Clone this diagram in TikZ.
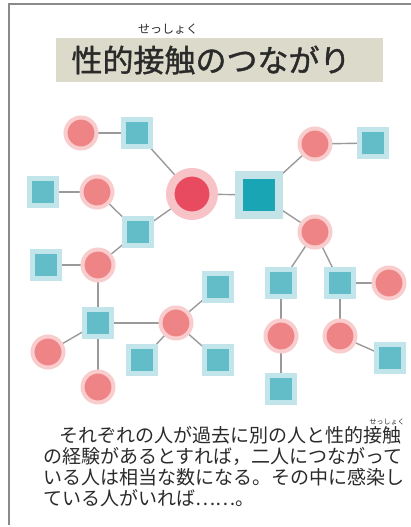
\documentclass[tikz,border=0pt]{standalone}
\usepackage{fontspec}
\setmainfont{Noto Sans CJK JP}
\newfontfamily\titlefont[FakeBold=1.2]{Noto Sans CJK JP}
\usetikzlibrary{backgrounds}
\definecolor{cfill}{HTML}{EE8486}
\definecolor{chalo}{HTML}{F9CDCD}
\definecolor{sfill}{HTML}{62BDC9}
\definecolor{shalo}{HTML}{C2E5EC}
\definecolor{bcfill}{HTML}{E84A5F}
\definecolor{bchalo}{HTML}{F7C3C6}
\definecolor{bsfill}{HTML}{1AA5B5}
\definecolor{bshalo}{HTML}{C4E3E9}
\definecolor{edgec}{HTML}{9A9A9A}
\definecolor{titlebg}{HTML}{DCDBCB}
\definecolor{txt}{HTML}{2A2A2A}
\definecolor{framec}{HTML}{8A8A8A}
\tikzset{
  x=1pt, y=-1pt,
  cnode/.style={circle, fill=cfill, draw=chalo, line width=4pt, minimum size=31pt, inner sep=0pt},
  snode/.style={rectangle, fill=sfill, draw=shalo, line width=5pt, minimum size=27pt, inner sep=0pt},
  bignodec/.style={circle, fill=bcfill, draw=bchalo, line width=8.5pt, minimum size=43.5pt, inner sep=0pt},
  bignodes/.style={rectangle, fill=bsfill, draw=bshalo, line width=8pt, minimum size=40pt, inner sep=0pt},
  link/.style={draw=edgec, line width=1.4pt},
  para/.style={anchor=west, inner sep=0pt, text=txt, text height=13pt, text depth=3pt, font=\fontsize{19}{21}\selectfont},
  ruby/.style={inner sep=0pt, text=txt},
}
\begin{document}
\begin{tikzpicture}
\useasboundingbox (0,0) rectangle (411,527);
% frame
\coordinate (fr1) at (9,525);
\coordinate (fr2) at (9,4);
\coordinate (fr3) at (411,4);
\draw[framec, line width=1.5pt] (fr1) -- (fr2) -- (fr3);
% title
\node[fill=titlebg, minimum width=327pt, minimum height=44pt, inner sep=0pt] (titlebox) at (219.5,60) {};
\node[inner sep=0pt, text=txt, font=\titlefont\fontsize{31}{31}\selectfont] (title) at (211,60) {性的接触のつながり};
\node[ruby, font=\fontsize{12}{12}\selectfont] (titleruby) at (168,29) {せっしょく};
% nodes
\node[cnode] (A) at (81,133) {};
\node[snode] (B) at (137,133) {};
\node[bignodec] (C) at (192,194) {};
\node[bignodes] (D) at (259,195) {};
\node[cnode] (E) at (315,144) {};
\node[snode] (F) at (373,143) {};
\node[snode] (G) at (43,192) {};
\node[cnode] (H) at (97,192) {};
\node[snode] (I) at (138,232) {};
\node[cnode] (J) at (315,232) {};
\node[snode] (K) at (46,265) {};
\node[cnode] (L) at (98,265) {};
\node[snode] (M) at (98,323) {};
\node[cnode] (N) at (176,323) {};
\node[snode] (O) at (218,287) {};
\node[cnode] (P) at (48,352) {};
\node[snode] (Q) at (142,360) {};
\node[snode] (R) at (218,360) {};
\node[cnode] (S) at (98,387) {};
\node[snode] (T) at (281,283) {};
\node[snode] (U) at (340,283) {};
\node[cnode] (V) at (389,283) {};
\node[cnode] (W) at (281,336) {};
\node[cnode] (X) at (340,336) {};
\node[snode] (Y) at (390,358) {};
\node[snode] (Z) at (281,389) {};
\begin{scope}[on background layer]
\path[link] (A.center) -- (B.center);
\path[link] (B.center) -- (C.center);
\path[link] (C.center) -- (D.center);
\path[link] (D.center) -- (E.center);
\path[link] (E.center) -- (F.center);
\path[link] (D.center) -- (J.center);
\path[link] (G.center) -- (H.center);
\path[link] (H.center) -- (I.center);
\path[link] (I.center) -- (C.center);
\path[link] (I.center) -- (L.center);
\path[link] (K.center) -- (L.center);
\path[link] (L.center) -- (M.center);
\path[link] (M.center) -- (N.center);
\path[link] (M.center) -- (P.center);
\path[link] (M.center) -- (S.center);
\path[link] (N.center) -- (O.center);
\path[link] (N.center) -- (Q.center);
\path[link] (N.center) -- (R.center);
\path[link] (J.center) -- (T.center);
\path[link] (J.center) -- (U.center);
\path[link] (U.center) -- (V.center);
\path[link] (U.center) -- (X.center);
\path[link] (X.center) -- (Y.center);
\path[link] (T.center) -- (W.center);
\path[link] (W.center) -- (Z.center);
\end{scope}
% paragraph
\node[para] (p1) at (59,437) {それぞれの人が過去に別の人と性的接触};
\node[ruby, font=\fontsize{7}{7}\selectfont] (pruby) at (387,421.5) {せっしょく};
\node[para] (p2) at (43,458) {の経験があるとすれば，二人につながって};
\node[para] (p3) at (43,479) {いる人は相当な数になる。その中に感染し};
\node[para] (p4) at (43,500) {ている人がいれば⋯⋯。};
\end{tikzpicture}
\end{document}
